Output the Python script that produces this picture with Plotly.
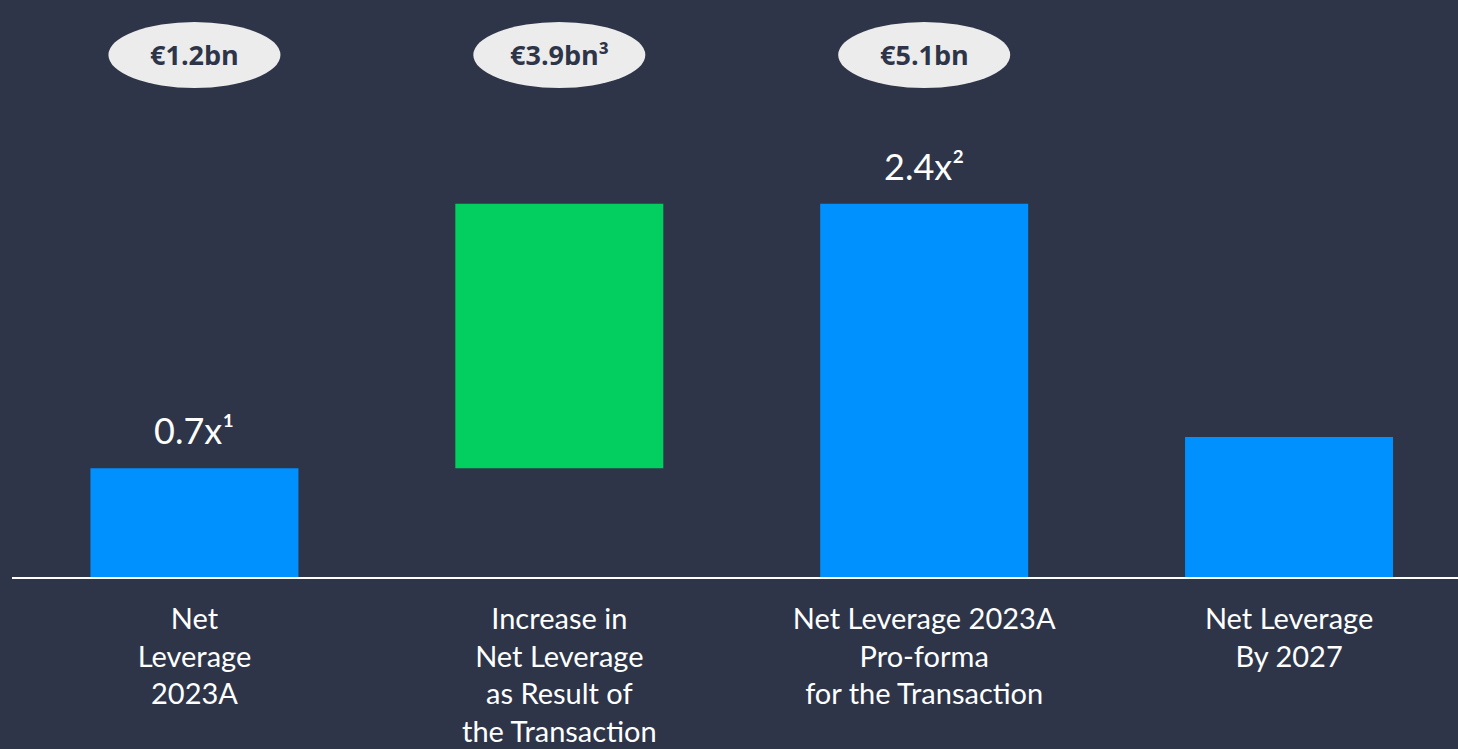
import plotly.graph_objects as go

categories = ["Net<br>Leverage<br>2023A",
              "Increase in<br>Net Leverage<br>as Result of<br>the Transaction",
              "Net Leverage 2023A<br>Pro-forma<br>for the Transaction",
              "Net Leverage<br>By 2027"]
bar_base = [0, 0.7, 0, 0]
bar_values = [0.7, 1.7, 2.4, 0.9]
bar_labels = ["0.7x¹", "", "2.4x²", ""]
bar_colors = ["#0091FF", "#02CF5F", "#0091FF", "#0091FF"]
debt_labels = ["€1.2bn", "€3.9bn³", "€5.1bn"]

BG = "#2E3549"
idx = list(range(len(categories)))

fig = go.Figure()
fig.add_trace(go.Bar(
    x=idx, y=bar_values, base=bar_base,
    marker=dict(color=bar_colors, line=dict(width=0)),
    width=0.57,
    hoverinfo="skip",
))

for i, (b, v, t) in enumerate(zip(bar_base, bar_values, bar_labels)):
    if t:
        fig.add_annotation(x=i, y=b + v, text=t, showarrow=False, yanchor="bottom",
                           yshift=14, xref="x", yref="y",
                           font=dict(family="Lato", size=36, color="white"))

ell_y = 3.357
for i, t in enumerate(debt_labels):
    fig.add_shape(type="circle", xref="x", yref="y",
                  xsizemode="pixel", ysizemode="pixel",
                  xanchor=i, yanchor=ell_y,
                  x0=-86, x1=86, y0=-33, y1=33,
                  fillcolor="#ECECEC", line=dict(width=0), layer="above")
    fig.add_annotation(x=i, y=ell_y, text="<b>" + t + "</b>", showarrow=False,
                       font=dict(family="Open Sans", size=27, color=BG),
                       xref="x", yref="y")

fig.update_layout(
    width=1458, height=749,
    paper_bgcolor=BG, plot_bgcolor=BG,
    margin=dict(l=12, r=0, t=0, b=172),
    showlegend=False,
    xaxis=dict(range=[-0.5, 3.463], tickmode="array", tickvals=idx, ticktext=categories,
               showgrid=False, zeroline=False, showline=True, linecolor="white", linewidth=2,
               ticks="", tickfont=dict(family="Lato", size=29, color="white"),
               ticklabelstandoff=15),
    yaxis=dict(range=[0, 577 / 155.5], visible=False, showgrid=False, zeroline=False),
)

fig.write_html("out.html",
               config={"displayModeBar": False},
               post_script="document.body.style.margin='0';document.body.style.overflow='hidden';document.body.style.background='#2E3549';")
